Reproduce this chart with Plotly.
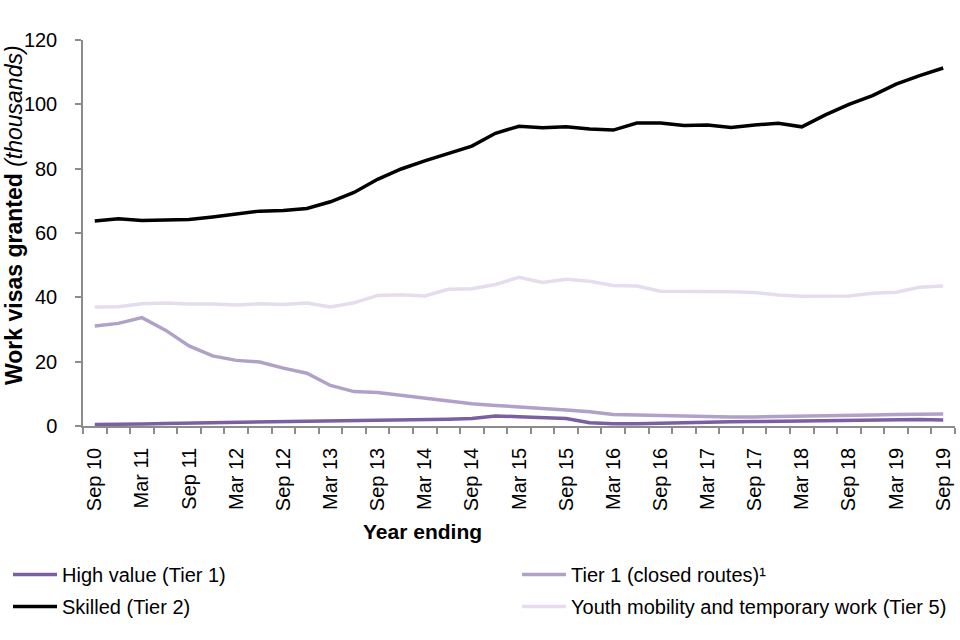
import plotly.graph_objects as go

quarters = ["Sep 10", "Dec 10", "Mar 11", "Jun 11", "Sep 11", "Dec 11", "Mar 12", "Jun 12",
            "Sep 12", "Dec 12", "Mar 13", "Jun 13", "Sep 13", "Dec 13", "Mar 14", "Jun 14",
            "Sep 14", "Dec 14", "Mar 15", "Jun 15", "Sep 15", "Dec 15", "Mar 16", "Jun 16",
            "Sep 16", "Dec 16", "Mar 17", "Jun 17", "Sep 17", "Dec 17", "Mar 18", "Jun 18",
            "Sep 18", "Dec 18", "Mar 19", "Jun 19", "Sep 19"]

high_value = [0.5, 0.5, 0.6, 0.8, 0.9, 1.0, 1.1, 1.2, 1.4, 1.4, 1.4, 1.6, 1.7, 1.7, 1.9, 2.1,
              2.3, 3.1, 2.9, 2.7, 2.3, 1.0, 0.7, 0.7, 0.9, 1.1, 1.2, 1.3, 1.4, 1.5, 1.6, 1.7,
              1.7, 1.8, 1.9, 2.0, 1.9]
tier1_closed = [31.1, 31.9, 33.7, 29.8, 24.9, 21.8, 20.4, 19.9, 18.0, 16.4, 12.6, 10.7, 10.4, 9.5,
                8.6, 7.9, 6.9, 6.4, 6.0, 5.6, 5.0, 4.4, 3.6, 3.4, 3.2, 3.1, 3.0, 2.8, 2.8, 2.9,
                2.9, 3.0, 3.2, 3.4, 3.6, 3.7, 3.7]
skilled = [63.7, 64.4, 63.9, 64.1, 64.2, 65.0, 65.9, 66.8, 67.0, 67.6, 69.7, 72.6, 76.7, 79.9,
           82.4, 84.6, 87.0, 91.0, 93.2, 92.7, 93.0, 92.3, 92.0, 94.2, 94.2, 93.4, 93.6, 92.8,
           93.6, 94.1, 93.0, 96.7, 100.0, 102.7, 106.3, 108.9, 111.3]
youth = [37.0, 37.1, 38.0, 38.2, 37.9, 37.9, 37.6, 38.0, 37.8, 38.2, 37.0, 38.3, 40.6, 40.8,
         40.4, 42.5, 42.7, 44.0, 46.2, 44.6, 45.6, 45.0, 43.7, 43.5, 41.9, 41.9, 41.7, 41.7,
         41.5, 40.7, 40.3, 40.3, 40.4, 41.3, 41.6, 43.1, 43.5]

series_names = ["High value (Tier 1)", "Tier 1 (closed routes)¹", "Skilled (Tier 2)",
                "Youth mobility and temporary work (Tier 5)"]
series_values = [high_value, tier1_closed, skilled, youth]
series_colors = ["#7b5fa1", "#b1a0c8", "#000000", "#e5ddee"]
series_legends = ["legend", "legend2", "legend", "legend2"]

x = list(range(len(quarters)))
tick_idx = [i for i, q in enumerate(quarters) if q.startswith("Sep") or q.startswith("Mar")]
tick_txt = [quarters[i] for i in tick_idx]

FONT = "Liberation Sans, Arial, sans-serif"
AX = "#8c8c8c"

fig = go.Figure()
for name, vals, col, lg in zip(series_names, series_values, series_colors, series_legends):
    fig.add_trace(go.Scatter(x=x, y=vals, mode="lines", name=name,
                             line=dict(color=col, width=3.5),
                             legend=lg, legendgroup=name, hoverinfo="skip"))

L, R, T, B = 83, 5, 40, 214
PW = 960 - L - R
PH = 640 - T - B

def px_x(p):
    return (p - L) / PW

def px_y(p):
    return (640 - B - p) / PH

fig.update_layout(
    width=960, height=640,
    margin=dict(l=L, r=R, t=T, b=B, autoexpand=False),
    paper_bgcolor="white", plot_bgcolor="white",
    font=dict(family=FONT, size=19, color="black"),
    xaxis=dict(range=[-0.5, len(quarters) - 0.5], tickmode="array", tickvals=tick_idx,
               ticktext=tick_txt, tickangle=-90, ticks="", showgrid=False, zeroline=False,
               showline=True, linecolor=AX, linewidth=1.5, ticklabelstandoff=12,
               tickfont=dict(size=20),
               minor=dict(tickmode="linear", tick0=-0.5, dtick=1, ticks="outside",
                          ticklen=6, tickcolor=AX, tickwidth=1.5, showgrid=False)),
    yaxis=dict(range=[0, 120], dtick=20, ticks="outside", ticklen=6, tickcolor=AX, tickwidth=1.5,
               showgrid=False, zeroline=False, showline=True, linecolor=AX, linewidth=1.5,
               tickfont=dict(size=20), ticklabelstandoff=14),
    legend=dict(x=px_x(8), y=px_y(555), xanchor="left", yanchor="top",
                orientation="v", itemwidth=44, tracegroupgap=3,
                font=dict(size=20), bgcolor="rgba(0,0,0,0)"),
    legend2=dict(x=px_x(517), y=px_y(555), xanchor="left", yanchor="top",
                 orientation="v", itemwidth=44, tracegroupgap=3,
                 font=dict(size=20), bgcolor="rgba(0,0,0,0)"),
    annotations=[
        dict(text="<b>Year ending</b>", x=px_x(422), y=px_y(531), xref="paper",
             yref="paper", showarrow=False, xanchor="center", yanchor="middle",
             font=dict(size=21)),
        dict(text="<b>Work visas granted</b> <i>(thousands)</i>", x=px_x(14), y=px_y(215),
             xref="paper", yref="paper", showarrow=False, textangle=-90,
             xanchor="center", yanchor="middle", font=dict(size=23)),
    ],
)

fig.write_html("out.html", config={"displayModeBar": False},
               post_script="document.body.style.margin='0px';document.body.style.overflow='hidden';")
